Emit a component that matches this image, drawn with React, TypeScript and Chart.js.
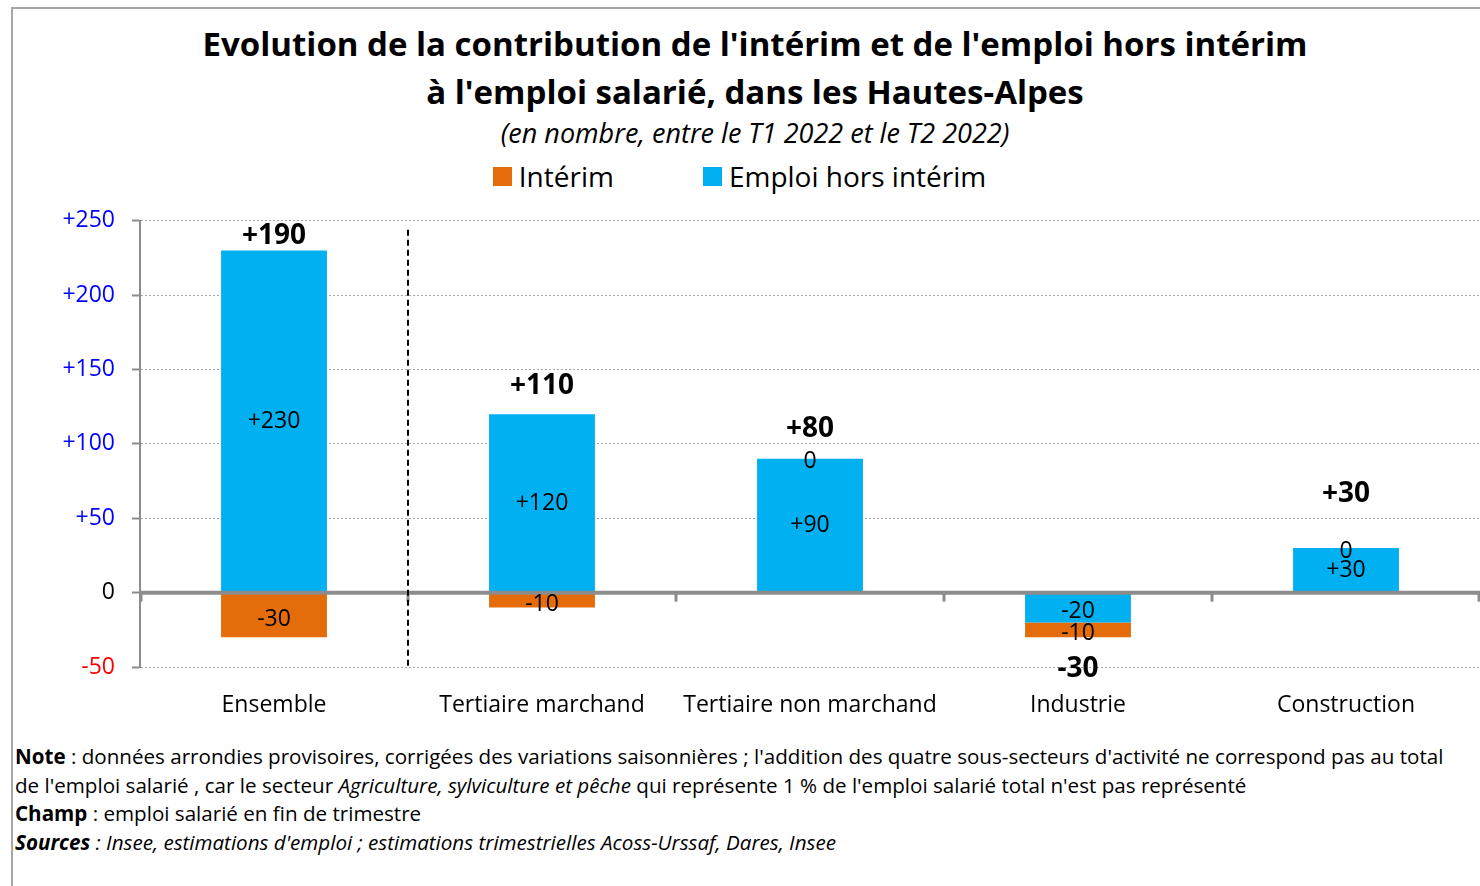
import React, { useEffect, useRef } from "react";
import { Chart, registerables } from "chart.js";

Chart.register(...registerables);

const categories = ["Ensemble", "Tertiaire marchand", "Tertiaire non marchand", "Industrie", "Construction"];
const interimValues = [-30, -10, 0, -10, 0];
const horsInterimValues = [230, 120, 90, -20, 30];
const totalValues = [190, 110, 80, -30, 30];
const yTickValues = [-50, 0, 50, 100, 150, 200, 250];
const seriesLabels = ["Intérim", "Emploi hors intérim"];
const seriesColors = ["#E46C0A", "#00B0F0"];
const titleLines = [
  "Evolution de la contribution de l'intérim et de l'emploi hors intérim",
  "à l'emploi salarié, dans les Hautes-Alpes",
];
const subtitleText = "(en nombre, entre le T1 2022 et le T2 2022)";
// vertical lift of the bold total labels (px, style only)
const totalLabelLift = [15, 28, 30, 32, 54];

const FONT = "'Open Sans', sans-serif";
const fmt = (v: number) => (v > 0 ? `+${v}` : `${v}`);

const overlayPlugin = {
  id: "overlay",
  afterDatasetsDraw(chart: any) {
    const { ctx, chartArea, scales } = chart;
    const xs = scales.x;
    const ys = scales.y;
    const y0 = ys.getPixelForValue(0);
    const n = categories.length;
    ctx.save();
    // zero line
    ctx.strokeStyle = "#8c8c8c";
    ctx.lineWidth = 4;
    ctx.beginPath();
    ctx.moveTo(chartArea.left, y0);
    ctx.lineTo(chartArea.right, y0);
    ctx.stroke();
    // category boundary ticks
    ctx.lineWidth = 3;
    for (let i = 0; i <= n; i++) {
      const bx = Math.min(Math.max(xs.getPixelForValue(i - 0.5), chartArea.left + 1), chartArea.right - 1);
      ctx.beginPath();
      ctx.moveTo(bx, y0);
      ctx.lineTo(bx, y0 + 9);
      ctx.stroke();
    }
    // dashed separator between Ensemble and sectors
    const sx = xs.getPixelForValue(0.5);
    ctx.strokeStyle = "#000000";
    ctx.lineWidth = 2;
    ctx.setLineDash([6, 4]);
    ctx.beginPath();
    ctx.moveTo(sx, chartArea.top + 9);
    ctx.lineTo(sx, chartArea.bottom);
    ctx.stroke();
    ctx.setLineDash([]);

    // segment labels
    ctx.fillStyle = "#000000";
    ctx.textAlign = "center";
    ctx.textBaseline = "middle";
    ctx.font = `23px ${FONT}`;
    chart.data.datasets.forEach((ds: any, di: number) => {
      const meta = chart.getDatasetMeta(di);
      meta.data.forEach((bar: any, i: number) => {
        const v = ds.data[i] as number;
        const p = bar.getProps(["x", "y", "base"], true);
        const cy = v === 0 ? p.y + 3 : (p.y + p.base) / 2 + (v < 0 ? 4 : 0);
        ctx.fillText(fmt(v), p.x, cy);
      });
    });

    // totals
    ctx.font = `bold 28px ${FONT}`;
    totalValues.forEach((t, i) => {
      const parts = [horsInterimValues[i], interimValues[i]];
      const pos = parts.filter((v) => v > 0).reduce((a, b) => a + b, 0);
      const neg = parts.filter((v) => v < 0).reduce((a, b) => a + b, 0);
      const cx = xs.getPixelForValue(i);
      const cy = t >= 0 ? ys.getPixelForValue(pos) - totalLabelLift[i] : ys.getPixelForValue(neg) + totalLabelLift[i];
      ctx.fillText(fmt(t), cx, cy);
    });
    ctx.restore();
  },
};

export default function App() {
  const canvasRef = useRef<HTMLCanvasElement | null>(null);

  useEffect(() => {
    if (!canvasRef.current) return;
    const chart = new Chart(canvasRef.current, {
      type: "bar",
      data: {
        labels: categories,
        datasets: [
          {
            label: seriesLabels[1],
            data: horsInterimValues,
            backgroundColor: seriesColors[1],
            barPercentage: 0.395,
            categoryPercentage: 1,
          },
          {
            label: seriesLabels[0],
            data: interimValues,
            backgroundColor: seriesColors[0],
            barPercentage: 0.395,
            categoryPercentage: 1,
          },
        ],
      },
      options: {
        responsive: false,
        animation: false,
        devicePixelRatio: 1,
        layout: { padding: { top: 19, left: 0, right: 0, bottom: 0 } },
        plugins: {
          legend: { display: false },
          title: { display: false },
          tooltip: { enabled: false },
        },
        scales: {
          x: {
            stacked: true,
            grid: { display: false, drawTicks: false },
            border: { display: false },
            ticks: {
              color: "#000000",
              font: { family: FONT, size: 23 },
              padding: 25,
              maxRotation: 0,
              autoSkip: false,
            },
            afterFit: (s: any) => {
              s.height = 63;
            },
          },
          y: {
            stacked: true,
            min: -50,
            max: 250,
            afterBuildTicks: (s: any) => {
              s.ticks = yTickValues.map((v) => ({ value: v }));
            },
            afterFit: (s: any) => {
              s.width = 126;
            },
            grid: {
              color: "#a6a6a6",
              lineWidth: 1,
              tickLength: 8,
              tickColor: "#8c8c8c",
              tickWidth: 2,
            },
            border: { display: true, color: "#8c8c8c", width: 2, dash: [2, 2] },
            ticks: {
              padding: 17,
              font: { family: FONT, size: 23 },
              color: (c: any) => (c.tick.value > 0 ? "#0000FF" : c.tick.value < 0 ? "#FF0000" : "#000000"),
              callback: (v: any) => fmt(Number(v)),
            },
          },
        },
      },
      plugins: [overlayPlugin],
    });
    return () => chart.destroy();
  }, []);

  return (
    <div
      style={{
        position: "fixed",
        left: 0,
        top: 0,
        width: 1480,
        height: 886,
        background: "#ffffff",
        overflow: "hidden",
        fontFamily: FONT,
        color: "#000000",
      }}
    >
      <div style={{ position: "absolute", left: 12, top: 7, width: 1468, height: 2, background: "#a6a6a6" }} />
      <div style={{ position: "absolute", left: 11, top: 7, width: 2, height: 879, background: "#a6a6a6" }} />
      <div
        style={{
          position: "absolute",
          left: 30,
          top: 20,
          width: 1450,
          textAlign: "center",
          fontWeight: 700,
          fontSize: 33,
          lineHeight: "48px",
          whiteSpace: "nowrap",
        }}
      >
        {titleLines.map((l, i) => (
          <div key={i}>{l}</div>
        ))}
      </div>
      <div
        style={{
          position: "absolute",
          left: 30,
          top: 118,
          width: 1450,
          textAlign: "center",
          fontStyle: "italic",
          fontSize: 27,
          lineHeight: "30px",
        }}
      >
        {subtitleText}
      </div>
      <div
        style={{
          position: "absolute",
          left: 0,
          top: 161,
          width: 1479,
          display: "flex",
          justifyContent: "center",
          gap: 89,
          fontSize: 28,
          lineHeight: "30px",
        }}
      >
        {seriesLabels.map((l, i) => (
          <div key={i} style={{ display: "flex", alignItems: "center", gap: 7 }}>
            <span style={{ display: "inline-block", width: 19, height: 19, background: seriesColors[i] }} />
            <span>{l}</span>
          </div>
        ))}
      </div>
      <div style={{ position: "absolute", left: 14, top: 190, width: 1466, height: 540 }}>
        <canvas ref={canvasRef} width={1466} height={540} style={{ width: 1466, height: 540, display: "block" }} />
      </div>
      <div
        style={{
          position: "absolute",
          left: 15,
          top: 742,
          fontSize: 20.6,
          lineHeight: "28.7px",
          whiteSpace: "nowrap",
        }}
      >
        <div>
          <b>Note</b> : données arrondies provisoires, corrigées des variations saisonnières ; l'addition des quatre
          sous-secteurs d'activité ne correspond pas au total
        </div>
        <div>
          de l'emploi salarié , car le secteur <i>Agriculture, sylviculture et pêche</i> qui représente 1 % de l'emploi
          salarié total n'est pas représenté
        </div>
        <div>
          <b>Champ</b> : emploi salarié en fin de trimestre
        </div>
        <div>
          <i>
            <b>Sources</b> : Insee, estimations d'emploi ; estimations trimestrielles Acoss-Urssaf, Dares, Insee
          </i>
        </div>
      </div>
    </div>
  );
}
